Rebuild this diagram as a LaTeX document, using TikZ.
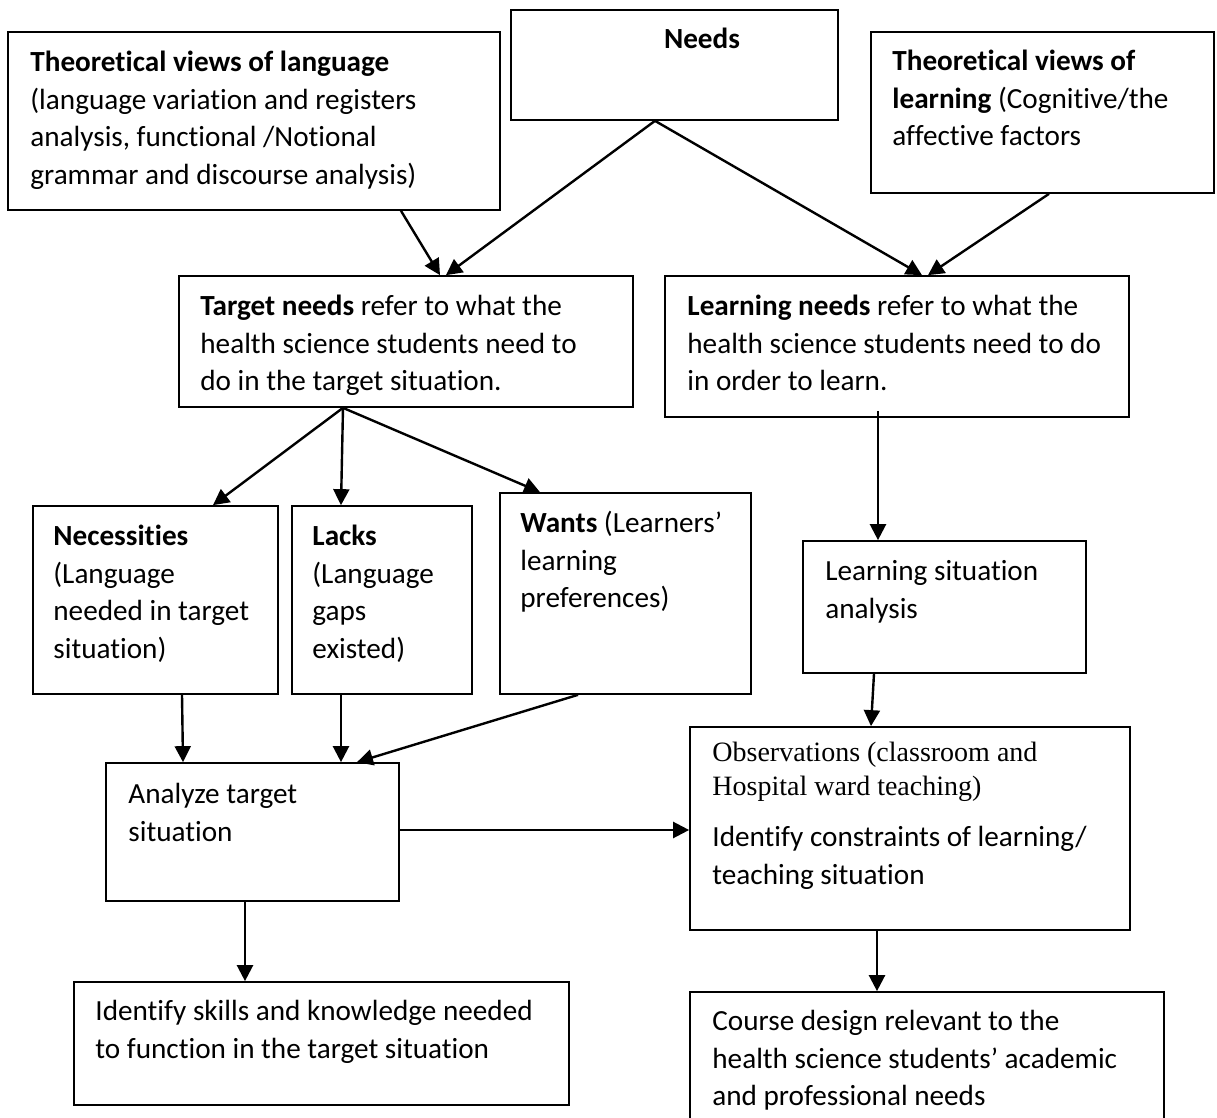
\documentclass[tikz,border=0pt]{standalone}
\usepackage{fontspec}
\setmainfont{Carlito}[Ligatures=NoCommon]
\newfontfamily\obsserif{Liberation Serif}
\usetikzlibrary{arrows.meta,fit}

\begin{document}
\begin{tikzpicture}[x=0.5pt,y=-0.5pt,
    box/.style={draw,line width=0.85pt,inner sep=0pt},
    txt/.style={anchor=north west,inner sep=0pt,align=left,
      font=\fontsize{14.6}{18.9}\selectfont},
    flow/.style={line width=1.2pt,-{Triangle[length=8pt,width=8pt]}}]
  \clip (0,0) rectangle (1217,1118);

  \node[box,fit={(8,32) (500,210)}] (lang) {};
  \node[box,fit={(511,10) (838,120)}] (needs) {};
  \node[box,fit={(871,32) (1214,193)}] (learn) {};
  \node[box,fit={(179,276) (633,407)}] (target) {};
  \node[box,fit={(665,276) (1129,417)}] (lneeds) {};
  \node[box,fit={(33,506) (278,694)}] (nec) {};
  \node[box,fit={(292,506) (472,694)}] (lacks) {};
  \node[box,fit={(500,493) (751,694)}] (wants) {};
  \node[box,fit={(803,541) (1086,673)}] (lsit) {};
  \node[box,fit={(106,763) (399,901)}] (analyze) {};
  \node[box,fit={(690,727) (1130,930)}] (obs) {};
  \node[box,fit={(74,982) (569,1105)}] (skills) {};
  \node[box,fit={(690,992) (1164,1140)}] (course) {};

  \node[txt] (langtxt) at (30,44.4) {\strut\textbf{Theoretical views of language}\\
    (language variation and registers\\analysis, functional /Notional\\
    grammar and discourse analysis)};
  \node[txt,anchor=north] (needstxt) at (702,21.4) {\strut\textbf{Needs}};
  \node[txt] (learntxt) at (892,43.4) {\strut\textbf{Theoretical views of}\\
    \textbf{learning} (Cognitive/the\\affective factors};
  \node[txt] (targettxt) at (200,288.4) {\strut\textbf{Target needs} refer to what the\\
    health science students need to\\do in the target situation.};
  \node[txt] (lneedstxt) at (687,288.4) {\strut\textbf{Learning needs} refer to what the\\
    health science students need to do\\in order to learn.};
  \node[txt] (nectxt) at (53,518.4) {\strut\textbf{Necessities}\\(Language\\
    needed in target\\situation)};
  \node[txt] (lackstxt) at (312,518.4) {\strut\textbf{Lacks}\\(Language\\gaps\\existed)};
  \node[txt] (wantstxt) at (520,505.4) {\strut\textbf{Wants} (Learners’\\learning\\preferences)};
  \node[txt] (lsittxt) at (825,553.4) {\strut Learning situation\\analysis};
  \node[txt] (analyzetxt) at (128,776.4) {\strut Analyze target\\situation};
  \node[txt,font=\obsserif\fontsize{14}{17}\selectfont] (obstxt) at (712,736.8)
    {\strut Observations (classroom and\\Hospital ward teaching)};
  \node[txt] (obstxtb) at (712,819.4) {\strut Identify constraints of learning/\\
    teaching situation};
  \node[txt] (skillstxt) at (95,993.4) {\strut Identify skills and knowledge needed\\
    to function in the target situation};
  \node[txt] (coursetxt) at (712,1003.4) {\strut Course design relevant to the\\
    health science students’ academic\\and professional needs};

  \draw[flow] ([xshift=73.5pt]lang.south) -- ([xshift=17pt]target.north);
  \draw[flow] ([xshift=-9.75pt]needs.south) -- ([xshift=20pt]target.north);
  \draw[flow] ([xshift=-9.75pt]needs.south) -- ([xshift=12.5pt]lneeds.north);
  \draw[flow] ([xshift=3.25pt]learn.south) -- ([xshift=15.5pt]lneeds.north);

  \draw[flow] ([xshift=-31.5pt]target.south) -- ([xshift=28.75pt]nec.north);
  \draw[flow] ([xshift=-31.5pt]target.south) -- ([xshift=-20.5pt]lacks.north);
  \draw[flow] ([xshift=-31.5pt]target.south) -- ([xshift=-42.75pt]wants.north);
  \draw[flow] ([xshift=-9.5pt,yshift=3.5pt]lneeds.south) -- ([xshift=-33.25pt]lsit.north);

  \draw[flow] ([xshift=13.25pt]nec.south) -- ([xshift=-34.75pt]analyze.north);
  \draw[flow] ([xshift=-20.5pt]lacks.south) -- ([xshift=44.25pt]analyze.north);
  \draw[flow] ([xshift=-23.75pt]wants.south) -- ([xshift=52.25pt]analyze.north);
  \draw[flow] ([xshift=-35.25pt]lsit.south) -- ([xshift=-19.5pt]obs.north);

  \draw[flow] ([yshift=1pt]analyze.east) -- ([yshift=1pt]analyze.east -| obs.west);
  \draw[flow] ([xshift=-3.75pt]analyze.south) -- ([xshift=-38.25pt]skills.north);
  \draw[flow] ([xshift=-16.5pt]obs.south) -- ([xshift=-25pt]course.north);
\end{tikzpicture}
\end{document}
